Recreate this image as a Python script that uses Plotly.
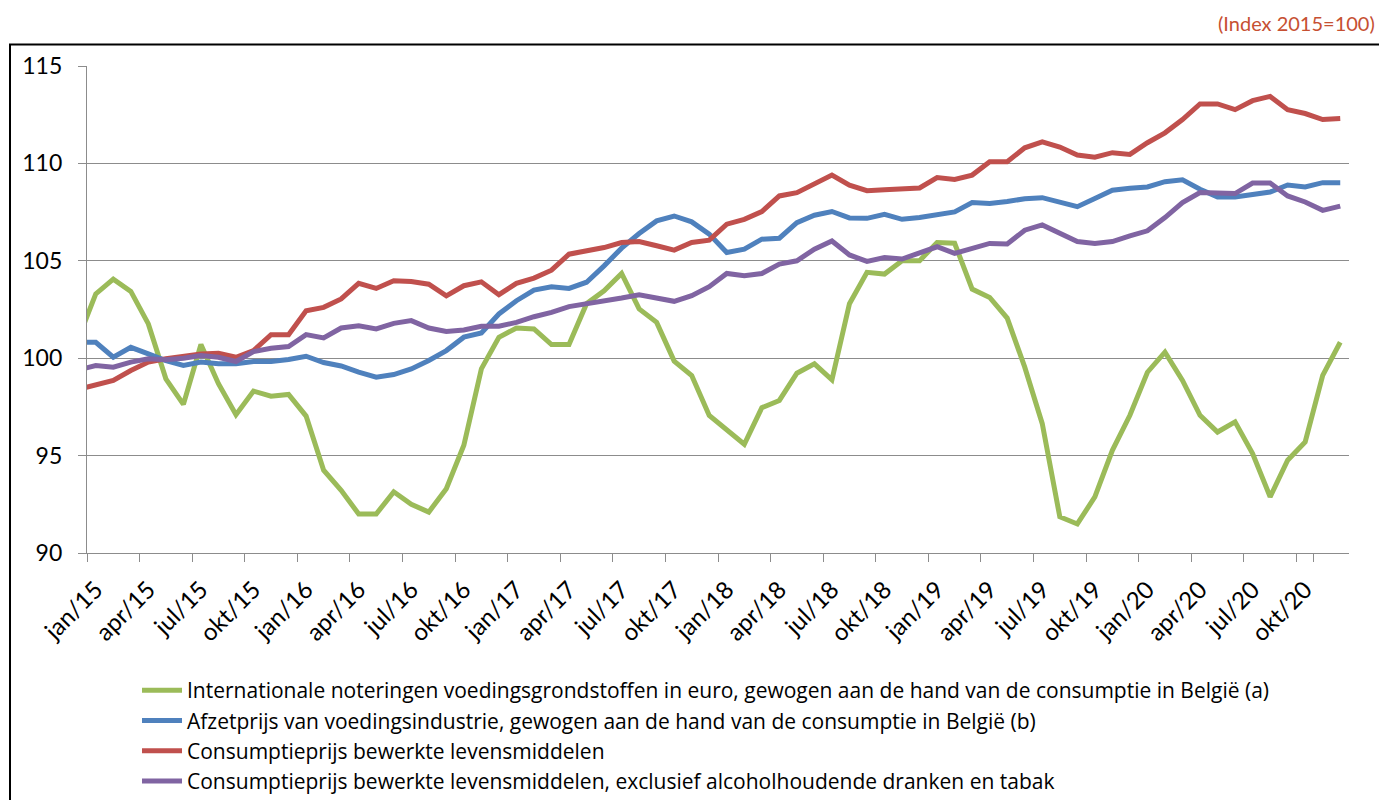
import plotly.graph_objects as go

# Monthly categories: dec/14 (partly visible at the left edge) .. dec/20
month_abbr = ["jan", "feb", "mrt", "apr", "mei", "jun", "jul", "aug", "sep", "okt", "nov", "dec"]
months = ["dec/14"] + [f"{m}/{y:02d}" for y in range(15, 21) for m in month_abbr]

tick_labels = ["jan/15", "apr/15", "jul/15", "okt/15", "jan/16", "apr/16", "jul/16", "okt/16",
               "jan/17", "apr/17", "jul/17", "okt/17", "jan/18", "apr/18", "jul/18", "okt/18",
               "jan/19", "apr/19", "jul/19", "okt/19", "jan/20", "apr/20", "jul/20", "okt/20"]

y_ticks = [90, 95, 100, 105, 110, 115]

series_names = [
    "Internationale noteringen voedingsgrondstoffen in euro, gewogen aan de hand van de consumptie in België (a)",
    "Afzetprijs van voedingsindustrie, gewogen aan de hand van de consumptie in België (b)",
    "Consumptieprijs bewerkte levensmiddelen",
    "Consumptieprijs bewerkte levensmiddelen, exclusief alcoholhoudende dranken en tabak",
]

green_a = [101.0,
           103.3, 104.06, 103.43, 101.76, 98.94, 97.63, 100.70, 98.69, 97.10, 98.31, 98.05, 98.14,
           97.03, 94.25, 93.22, 92.0, 92.0, 93.14, 92.5, 92.1, 93.3, 95.53, 99.45, 101.07,
           101.55, 101.5, 100.7, 100.7, 102.8, 103.46, 104.35, 102.53, 101.84, 99.85, 99.11, 97.06,
           96.33, 95.58, 97.46, 97.83, 99.23, 99.71, 98.89, 102.8, 104.41, 104.32, 105.0, 105.0,
           105.94, 105.9, 103.55, 103.12, 102.06, 99.54, 96.64, 91.86, 91.49, 92.88, 95.27, 97.07,
           99.28, 100.31, 98.86, 97.07, 96.21, 96.73, 95.11, 92.88, 94.76, 95.7, 99.12, 100.82]

blue_b = [100.82,
          100.82, 100.05, 100.56, 100.22, 99.88, 99.63, 99.8, 99.71, 99.71, 99.83, 99.83, 99.93,
          100.1, 99.78, 99.6, 99.28, 99.03, 99.16, 99.45, 99.88, 100.39, 101.08, 101.3, 102.27,
          102.95, 103.5, 103.67, 103.58, 103.9, 104.74, 105.65, 106.4, 107.05, 107.3, 107.0, 106.37,
          105.43, 105.6, 106.11, 106.16, 106.96, 107.34, 107.53, 107.2, 107.18, 107.39, 107.13, 107.22,
          107.39, 107.51, 107.99, 107.94, 108.04, 108.19, 108.24, 108.04, 107.78, 108.2, 108.62, 108.72,
          108.79, 109.06, 109.16, 108.67, 108.28, 108.28, 108.38, 108.53, 108.89, 108.79, 109.01, 109.01]

red_cons = [98.4,
            98.64, 98.86, 99.37, 99.8, 99.97, 100.09, 100.22, 100.26, 100.05, 100.39, 101.21, 101.21,
            102.44, 102.61, 103.04, 103.84, 103.58, 103.98, 103.94, 103.8, 103.2, 103.72, 103.92, 103.26,
            103.84, 104.11, 104.52, 105.34, 105.51, 105.68, 105.94, 105.99, 105.77, 105.55, 105.94, 106.06,
            106.88, 107.13, 107.53, 108.33, 108.5, 108.98, 109.4, 108.88, 108.6, 108.65, 108.7, 108.74,
            109.27, 109.18, 109.4, 110.09, 110.09, 110.8, 111.11, 110.84, 110.43, 110.32, 110.55, 110.46,
            111.06, 111.57, 112.25, 113.05, 113.05, 112.76, 113.22, 113.44, 112.76, 112.56, 112.25, 112.30]

purple_excl = [99.4,
               99.62, 99.54, 99.8, 99.97, 99.92, 100.0, 100.14, 100.05, 99.83, 100.34, 100.51, 100.6,
               101.21, 101.04, 101.55, 101.67, 101.5, 101.79, 101.93, 101.55, 101.37, 101.45, 101.64, 101.64,
               101.84, 102.13, 102.35, 102.65, 102.78, 102.95, 103.09, 103.26, 103.12, 102.92, 103.21, 103.67,
               104.35, 104.23, 104.35, 104.83, 105.0, 105.6, 106.02, 105.3, 104.97, 105.17, 105.09, 105.43,
               105.72, 105.38, 105.65, 105.89, 105.86, 106.57, 106.84, 106.4, 105.99, 105.89, 105.99, 106.28,
               106.54, 107.22, 107.99, 108.5, 108.5, 108.45, 108.99, 108.99, 108.33, 108.02, 107.59, 107.81]

colors = ["#9BBB59", "#4F81BD", "#C0504D", "#8064A2"]
values = [green_a, blue_b, red_cons, purple_excl]

FONT = "Lato"
LEGEND_FONT = "Open Sans"
GRID = "#8C8C8C"

fig = go.Figure()
for name, vals, col in zip(series_names, values, colors):
    fig.add_trace(go.Scatter(x=months, y=vals, mode="lines", name=name,
                             line=dict(color=col, width=5), hoverinfo="skip"))

W, H = 1379, 800
L, R, T, B = 87, 30, 66, 247
pw, ph = W - L - R, H - T - B

def px_x(px):
    return (px - L) / pw

def px_y(py):
    return (H - B - py) / ph

fig.update_layout(
    width=W, height=H, autosize=False,
    margin=dict(l=L, r=R, t=T, b=B, autoexpand=False),
    paper_bgcolor="white", plot_bgcolor="white",
    font=dict(family=FONT, color="black"),
    showlegend=True,
    legend=dict(orientation="v", xref="container", yref="container",
                x=137 / W, y=1 - 670 / H, xanchor="left", yanchor="top",
                font=dict(family=LEGEND_FONT, size=21, color="black"), bgcolor="rgba(0,0,0,0)",
                tracegroupgap=0, itemwidth=40),
    xaxis=dict(type="category", range=[0.5, len(months) - 0.5],
               tickmode="array", tickvals=tick_labels, ticktext=tick_labels,
               tickangle=-45, tickson="boundaries", ticks="outside", ticklen=8,
               tickcolor=GRID, tickwidth=1.3, showgrid=False,
               showline=True, linecolor=GRID, linewidth=1.3,
               tickfont=dict(family=FONT, size=24, color="black"), ticklabelstandoff=12),
    xaxis2=dict(overlaying="x", anchor="y", range=[0, 1], tickmode="array", tickvals=[1],
                showticklabels=False, ticks="outside", ticklen=8, tickcolor=GRID, tickwidth=1.3,
                showgrid=False, showline=False, zeroline=False, side="bottom"),
    yaxis=dict(range=[90, 115], tickmode="array", tickvals=y_ticks,
               ticks="outside", ticklen=8, tickcolor=GRID, tickwidth=1.3,
               showgrid=True, gridcolor=GRID, gridwidth=1.3, zeroline=False,
               showline=True, linecolor=GRID, linewidth=1.3,
               tickfont=dict(family=FONT, size=23, color="black"), ticklabelstandoff=11),
    annotations=[dict(text="(Index 2015=100)", xref="paper", yref="paper",
                      x=px_x(1377), y=px_y(23), xanchor="right", yanchor="middle",
                      showarrow=False, font=dict(family=FONT, size=20, color="#C65032"))],
    shapes=[dict(type="rect", xref="paper", yref="paper",
                 x0=px_x(10), x1=px_x(1390), y0=px_y(815), y1=px_y(44.5),
                 line=dict(color="black", width=2), fillcolor="rgba(0,0,0,0)", layer="below")],
)

fig.write_html("out.html", config={"displayModeBar": False},
               post_script="document.body.style.margin='0';document.body.style.overflow='hidden';")
